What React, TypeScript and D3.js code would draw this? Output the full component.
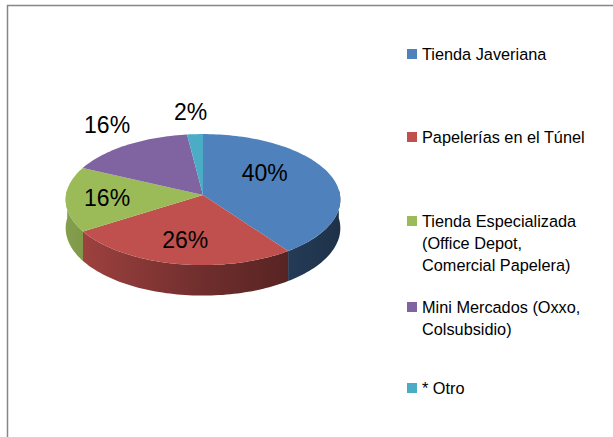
import React from "react";
import * as d3 from "d3";

// Purchase locations, share of answers (%)
const categories = [
  "Tienda Javeriana",
  "Papelerías en el Túnel",
  "Tienda Especializada (Office Depot, Comercial Papelera)",
  "Mini Mercados (Oxxo, Colsubsidio)",
  "* Otro",
];
const legendLines = [
  ["Tienda Javeriana"],
  ["Papelerías en el Túnel"],
  ["Tienda Especializada", "(Office Depot,", "Comercial Papelera)"],
  ["Mini Mercados (Oxxo,", "Colsubsidio)"],
  ["* Otro"],
];
const values = [40, 26, 16, 16, 2];
const colors = ["#4F81BD", "#C0504D", "#9BBB59", "#8064A2", "#4BACC6"];

const W = 613;
const H = 437;
const FONT = "'Liberation Sans', Arial, sans-serif";

// 3D pie geometry (tilted disc with mild perspective)
const cx = 203;
const cy = 195;
const rx = 137;
const ry = 65.5;
const depth = 28.5;
const persp = 0.07;

// label anchors as fractions of the radii, per slice
const labelAnchors: [number, number][] = [
  [0.45, -0.33],
  [-0.13, 0.69],
  [-0.7, 0.05],
  [-0.7, -1.07],
  [-0.09, -1.26],
];

// legend layout
const legendX = 407;
const legendTops = [54, 137, 221, 307, 388];
const lineGap = 22;

// project a point on the disc rim at angle a (0 = back, clockwise), dropped by dz
const proj = (a: number, dz = 0): [number, number] => {
  const s = 1 - persp * Math.cos(a);
  return [cx + rx * Math.sin(a) * s, cy - ry * Math.cos(a) * s + dz * s];
};

const sample = (a0: number, a1: number) => {
  const n = Math.max(2, Math.ceil(((a1 - a0) / (2 * Math.PI)) * 240));
  return d3.range(n + 1).map((i) => a0 + ((a1 - a0) * i) / n);
};

const line = d3.line<[number, number]>();

export default function App() {
  const pie = d3
    .pie<number>()
    .sort(null)
    .value((d) => d)
    .startAngle(0)
    .endAngle(2 * Math.PI);
  const arcs = pie(values);
  const total = d3.sum(values);
  const fmt = d3.format(".0%");

  const topPath = (a0: number, a1: number) => {
    const pts: [number, number][] = [[cx, cy], ...sample(a0, a1).map((a) => proj(a))];
    return line(pts) + "Z";
  };

  const sidePath = (a0: number, a1: number) => {
    const s = Math.max(a0, Math.PI / 2 - 0.08);
    const e = Math.min(a1, (3 * Math.PI) / 2 + 0.08);
    if (e <= s) return null;
    const angles = sample(s, e);
    const pts: [number, number][] = [
      ...angles.map((a) => proj(a)),
      ...angles.slice().reverse().map((a) => proj(a, depth)),
    ];
    return line(pts) + "Z";
  };

  const shade = (c: string, t: number) => d3.interpolateRgb(c, "#000")(t);

  return (
    <svg
      width={W}
      height={H}
      style={{ position: "absolute", left: 0, top: 0, background: "#fff" }}
      fontFamily={FONT}
    >
      <defs>
        {colors.map((c, i) => (
          <linearGradient
            key={i}
            id={`side${i}`}
            gradientUnits="userSpaceOnUse"
            x1={cx - rx}
            x2={cx + rx}
            y1={0}
            y2={0}
          >
            <stop offset="0" stopColor={shade(c, 0.15)} />
            <stop offset="0.5" stopColor={shade(c, 0.42)} />
            <stop offset="1" stopColor={shade(c, 0.62)} />
          </linearGradient>
        ))}
      </defs>

      <rect x={0} y={0} width={W} height={H} fill="#fff" />
      <path
        d={`M7.5,${H + 5}V5.5H${W + 5}`}
        fill="none"
        stroke="#868686"
        strokeWidth={1.5}
      />

      {/* pie walls */}
      {arcs.map((a, i) => {
        const d = sidePath(a.startAngle, a.endAngle);
        return d ? <path key={`s${i}`} d={d} fill={`url(#side${i})`} /> : null;
      })}

      {/* pie top */}
      {arcs.map((a, i) => (
        <path key={`t${i}`} d={topPath(a.startAngle, a.endAngle)} fill={colors[i]} />
      ))}

      {/* value labels */}
      {arcs.map((a, i) => (
        <text
          key={`l${i}`}
          x={cx + rx * labelAnchors[i][0]}
          y={cy + ry * labelAnchors[i][1]}
          textAnchor="middle"
          dominantBaseline="central"
          fontSize={23}
          fill="#000"
        >
          {fmt(a.value / total)}
        </text>
      ))}

      {/* legend */}
      {categories.map((c, i) => (
        <g key={`g${i}`}>
          <rect
            x={legendX}
            y={legendTops[i] - 5}
            width={10}
            height={10}
            fill={colors[i]}
          />
          {legendLines[i].map((ln, j) => (
            <text
              key={j}
              x={legendX + 15}
              y={legendTops[i] + j * lineGap}
              dominantBaseline="central"
              fontSize={16.3}
              fill="#000"
            >
              {ln}
            </text>
          ))}
        </g>
      ))}
    </svg>
  );
}
